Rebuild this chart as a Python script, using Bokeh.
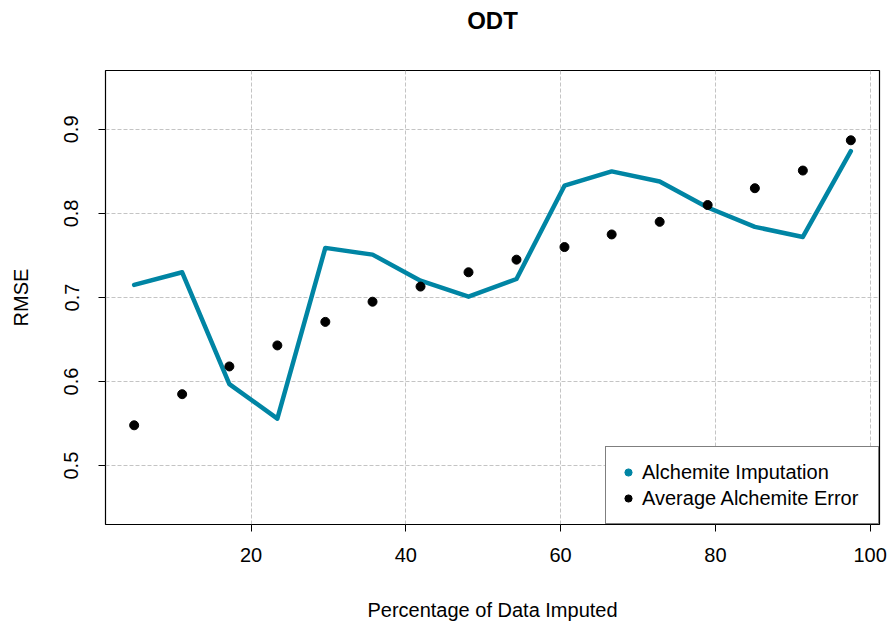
from bokeh.plotting import figure
from bokeh.models import Range1d, FixedTicker, Legend, LegendItem, Title
from bokeh.embed import file_html
from bokeh.resources import INLINE

# Percentage of the dataset that was imputed
pct_imputed = [4.9, 11.1, 17.2, 23.4, 29.6, 35.7, 41.9, 48.1,
               54.3, 60.5, 66.6, 72.8, 79.0, 85.1, 91.3, 97.5]
# RMSE of the Alchemite imputation at each percentage
imputation_rmse = [0.715, 0.730, 0.597, 0.556, 0.759, 0.751, 0.720, 0.701,
                   0.722, 0.833, 0.850, 0.838, 0.807, 0.784, 0.772, 0.874]
# Average Alchemite error at each percentage
average_error = [0.548, 0.585, 0.618, 0.643, 0.671, 0.695, 0.713, 0.730,
                 0.745, 0.760, 0.775, 0.790, 0.810, 0.830, 0.851, 0.887]

x_ticks = [20, 40, 60, 80, 100]
x_tick_labels = ["20", "40", "60", "80", "100"]
y_ticks = [0.5, 0.6, 0.7, 0.8, 0.9]
y_tick_labels = ["0.5", "0.6", "0.7", "0.8", "0.9"]
y_limits = [0.45, 0.95]

FONT = "Liberation Sans"
TEAL = "#0085a4"


def padded(lo, hi, frac=0.04):
    pad = (hi - lo) * frac
    return lo - pad, hi + pad


x_lo, x_hi = padded(min(pct_imputed), max(pct_imputed))
y_lo, y_hi = padded(*y_limits)

p = figure(
    width=888, height=626,
    x_range=Range1d(x_lo, x_hi), y_range=Range1d(y_lo, y_hi),
    output_backend="svg", toolbar_location=None,
    min_border_left=105, min_border_right=9,
    min_border_top=70, min_border_bottom=102,
    background_fill_color="white", border_fill_color="white",
)
p.outline_line_color = "black"
p.outline_line_width = 1.2
p.outline_line_alpha = 1

# blank strip between the frame and the title, then the title itself
p.add_layout(Title(text=" ", text_font_size="1px", standoff=34), "above")
p.add_layout(Title(text="ODT", align="center", vertical_align="bottom",
                   text_font=FONT, text_font_size="24px",
                   text_font_style="bold", text_color="black", standoff=0),
             "above")

for ax, ticks, labels in ((p.xaxis[0], x_ticks, x_tick_labels),
                          (p.yaxis[0], y_ticks, y_tick_labels)):
    ax.ticker = FixedTicker(ticks=ticks)
    ax.major_label_overrides = dict(zip(ticks, labels))
    ax.axis_line_color = None
    ax.major_tick_line_color = "black"
    ax.major_tick_out = 7
    ax.major_tick_in = 0
    ax.minor_tick_line_color = None
    ax.major_label_text_font = FONT
    ax.major_label_text_font_size = "20px"
    ax.major_label_text_color = "black"
    ax.axis_label_text_font = FONT
    ax.axis_label_text_font_size = "20px"
    ax.axis_label_text_font_style = "normal"
    ax.axis_label_text_color = "black"

p.xaxis.axis_label = "Percentage of Data Imputed"
p.xaxis.major_label_standoff = 16
p.xaxis.axis_label_standoff = 34

p.yaxis.axis_label = "RMSE"
p.yaxis.major_label_orientation = "vertical"
p.yaxis.major_label_standoff = 20
p.yaxis.axis_label_standoff = 30

for g in (p.xgrid[0], p.ygrid[0]):
    g.grid_line_color = "#c4c4c4"
    g.grid_line_dash = "4 2"
    g.grid_line_width = 1

line = p.line(pct_imputed, imputation_rmse, line_color=TEAL, line_width=4.5,
              line_join="round", line_cap="round")
# marker version of the imputation series, used only for its legend swatch
swatch = p.scatter(pct_imputed, imputation_rmse, size=8, fill_color=TEAL,
                   line_color=TEAL)
swatch.visible = False
dots = p.scatter(pct_imputed, average_error, size=9, fill_color="black",
                 line_color="black")

legend = Legend(
    items=[LegendItem(label="Alchemite Imputation", renderers=[swatch]),
           LegendItem(label="Average Alchemite Error", renderers=[dots])],
    location="bottom_right", margin=0, padding=13, spacing=2,
    glyph_width=18, glyph_height=24, label_height=24, label_width=223,
    label_standoff=5,
    label_text_font=FONT, label_text_font_size="20px",
    label_text_color="black",
    border_line_color="black", border_line_width=1.2,
    background_fill_color="white", background_fill_alpha=1,
)
p.add_layout(legend)

open("out.html", "w").write(file_html(p, INLINE))
